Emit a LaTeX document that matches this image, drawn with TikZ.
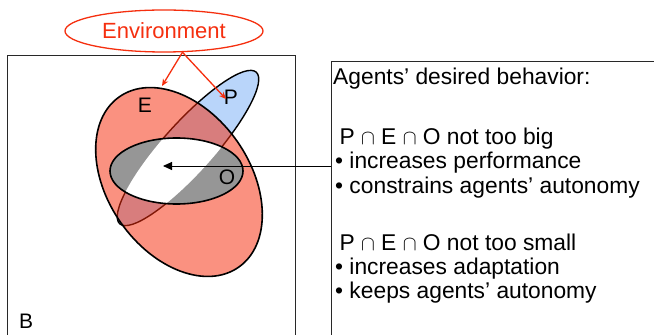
\documentclass[tikz,border=0pt]{standalone}
\usepackage{fontspec}
\setmainfont{Liberation Sans}
\usetikzlibrary{shapes.geometric,arrows.meta}
\definecolor{envred}{RGB}{245,47,15}
\definecolor{pblue}{RGB}{185,213,250}
\definecolor{ogray}{RGB}{150,150,150}
\definecolor{boxgray}{RGB}{40,40,40}
\begin{document}
\begin{tikzpicture}[x=1pt,y=1pt,
  setline/.style={draw=black,line width=1.6pt},
  lbl/.style={font=\fontsize{21}{24}\selectfont,inner sep=0pt},
  txt/.style={font=\fontsize{22.8}{26}\selectfont,anchor=base west,inner sep=0pt},
  redarrow/.style={draw=envred,line width=1.3pt,-{Stealth[length=7pt,width=6pt]}},
  framebox/.style={draw=boxgray,line width=0.8pt}]
\useasboundingbox (0,0) rectangle (654,335);
% frames
\draw[framebox] (7,-5) -- (7,280) -- (295,280) -- (295,-5);
\draw[framebox] (331,-5) -- (331,274) -- (660,274);
% P set
\fill[pblue,rotate around={48:(188,187)}] (188,187) ellipse [x radius=102,y radius=25];
\draw[line width=1.4pt,rotate around={48:(188,187)}] (188,187) ellipse [x radius=102,y radius=25];
% E set (translucent)
\fill[envred,fill opacity=0.53,rotate around={-55:(179,153)}] (179,153) ellipse [x radius=104,y radius=71];
\draw[setline,rotate around={-55:(179,153)}] (179,153) ellipse [x radius=104,y radius=71];
% O set
\fill[ogray] (176.5,164) ellipse [x radius=66.5,y radius=33];
\begin{scope}
  \clip (176.5,164) ellipse [x radius=66.5,y radius=33];
  \fill[white,rotate around={48:(188,187)}] (188,187) ellipse [x radius=102,y radius=25];
\end{scope}
\draw[setline] (176.5,164) ellipse [x radius=66.5,y radius=33];
% labels
\node[lbl] (lE) at (145,230) {E};
\node[lbl] (lP) at (231,238) {P};
\node[lbl] (lO) at (227,158) {O};
\node[lbl,anchor=base west] (lB) at (19,6) {B};
% environment
\node[draw=envred,line width=1.3pt,ellipse,minimum width=198pt,minimum height=42pt,inner sep=0pt,
  text=envred,font=\fontsize{22}{24}\selectfont] (env) at (164,304) {Environment};
\coordinate (etop) at (162,249);
\coordinate (ptip) at (226,236);
\draw[redarrow] (env.-49) -- (etop);
\draw[redarrow] (env.-49) -- (ptip);
% text box lines
\node[txt] (t1) at (333,250) {Agents’ desired behavior:};
\node[txt] (t2) at (333,190) {\ P $\cap$ E $\cap$ O not too big};
\node[txt] (t3) at (335,166) {• increases performance};
\node[txt] (t4) at (335,141) {• constrains agents’ autonomy};
\node[txt] (t5) at (333,84) {\ P $\cap$ E $\cap$ O not too small};
\node[txt] (t6) at (335,60) {• increases adaptation};
\node[txt] (t7) at (335,36) {• keeps agents’ autonomy};
% arrow
\coordinate (boxedge) at (331,169);
\coordinate (white) at (163,169);
\draw[line width=0.9pt,-{Triangle[length=9pt,width=8pt]}] (boxedge) -- (white);
\end{tikzpicture}
\end{document}
